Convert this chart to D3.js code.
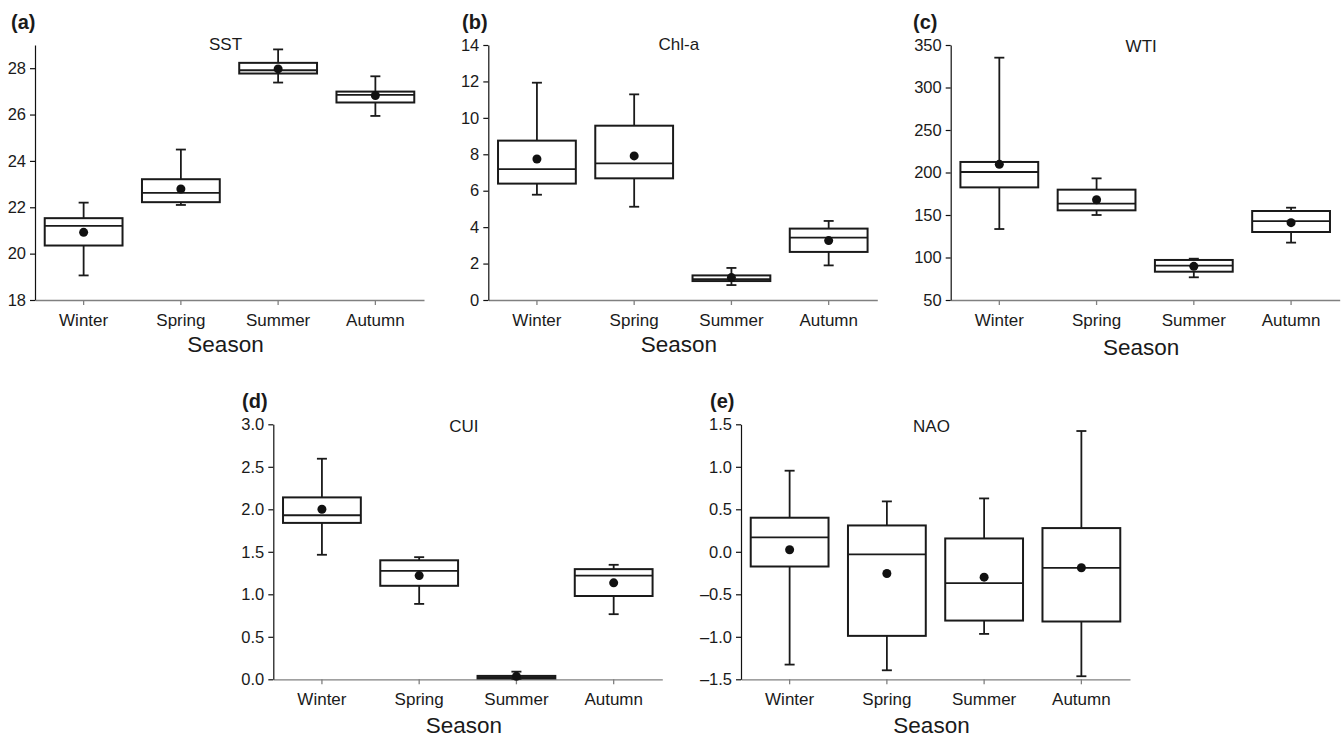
<!DOCTYPE html>
<html>
<head>
<meta charset="utf-8">
<script src="https://cdnjs.cloudflare.com/ajax/libs/d3/7.8.5/d3.min.js"></script>
<style>
  body { margin: 0; background: #fff; }
  text { font-family: "Liberation Sans", Arial, sans-serif; fill: #1a1a1a; }
</style>
</head>
<body>
<div id="chart"></div>
<script>
// seasons on the x axis
var seasons = ['Winter', 'Spring', 'Summer', 'Autumn'];

// box stats per season: [whisker low, Q1, median, Q3, whisker high, mean]
var sstStats = [
    [19.06, 20.35, 21.2, 21.53, 22.2, 20.92],
    [22.1, 22.22, 22.62, 23.21, 24.49, 22.79],
    [27.38, 27.77, 27.91, 28.23, 28.81, 27.97],
    [25.94, 26.52, 26.85, 26.99, 27.65, 26.82]
];
var chlStats = [
    [5.78, 6.39, 7.19, 8.75, 11.93, 7.74],
    [5.12, 6.68, 7.5, 9.57, 11.29, 7.91],
    [0.82, 1.04, 1.15, 1.35, 1.76, 1.23],
    [1.9, 2.64, 3.42, 3.92, 4.34, 3.26]
];
var wtiStats = [
    [133.5, 182.5, 200.6, 212.4, 335.1, 209.6],
    [150, 155.5, 163.3, 179.8, 193.1, 168],
    [76.7, 83.3, 90.4, 97.1, 98.6, 89.6],
    [117.5, 130, 142.9, 154.7, 158.6, 141]
];
var cuiStats = [
    [1.465, 1.84, 1.93, 2.14, 2.595, 2.0],
    [0.887, 1.1, 1.276, 1.4, 1.437, 1.22],
    [0.005, 0.01, 0.025, 0.04, 0.09, 0.035],
    [0.766, 0.98, 1.22, 1.296, 1.347, 1.135]
];
var naoStats = [
    [-1.327, -0.173, 0.169, 0.401, 0.954, 0.024],
    [-1.394, -0.989, -0.031, 0.31, 0.593, -0.255],
    [-0.966, -0.809, -0.369, 0.157, 0.628, -0.298],
    [-1.464, -0.82, -0.188, 0.279, 1.421, -0.188]
];

// y ticks
var sstTicks = [18, 20, 22, 24, 26, 28];
var chlTicks = [0, 2, 4, 6, 8, 10, 12, 14];
var wtiTicks = [50, 100, 150, 200, 250, 300, 350];
var cuiTicks = [0, 0.5, 1.0, 1.5, 2.0, 2.5, 3.0];
var naoTicks = [-1.5, -1.0, -0.5, 0.0, 0.5, 1.0, 1.5];

var W = 1344, H = 738;
var plotW = 389, plotH = 255;

// en dash for negatives, like the original figure
var dec1 = function(v) { return d3.format('.1f')(v).replace('\u2212', '\u2013'); };

var panels = [
    {tag: '(a)', title: 'SST', stats: sstStats, ticks: sstTicks, domain: [18, 29], fmt: d3.format('d'),
     left: 35, top: 45, tagX: 11, titleDy: 5, labDy: 52},
    {tag: '(b)', title: 'Chl-a', stats: chlStats, ticks: chlTicks, domain: [0, 14], fmt: d3.format('d'),
     left: 488.3, top: 45, tagX: 462, titleDy: 5, labDy: 52},
    {tag: '(c)', title: 'WTI', stats: wtiStats, ticks: wtiTicks, domain: [50, 350], fmt: d3.format('d'),
     left: 950.7, top: 45, tagX: 913, titleDy: 7, labDy: 55},
    {tag: '(d)', title: 'CUI', stats: cuiStats, ticks: cuiTicks, domain: [0, 3], fmt: dec1,
     left: 273.3, top: 424.3, tagX: 242, titleDy: 8, labDy: 54},
    {tag: '(e)', title: 'NAO', stats: naoStats, ticks: naoTicks, domain: [-1.5, 1.5], fmt: dec1,
     left: 741, top: 424.3, tagX: 710, titleDy: 8, labDy: 54}
];

var svg = d3.select('#chart')
    .append('svg')
    .attr('width', W)
    .attr('height', H);

panels.forEach(function(p) {
    var g = svg.append('g')
        .attr('transform', 'translate(' + p.left + ',' + p.top + ')');

    var x = d3.scaleBand().domain(seasons).range([0, plotW]).padding(0);
    var y = d3.scaleLinear().domain(p.domain).range([plotH, 0]);

    // x axis (grey)
    var xAxis = g.append('g')
        .attr('transform', 'translate(0,' + plotH + ')')
        .call(d3.axisBottom(x).tickSize(5).tickPadding(5).tickSizeOuter(0));
    xAxis.select('.domain').attr('stroke', '#808080').attr('stroke-width', 1.3);
    xAxis.selectAll('.tick line').attr('stroke', '#808080').attr('stroke-width', 1.3);
    xAxis.selectAll('.tick text')
        .attr('font-size', 17)
        .attr('dy', '0.95em')
        .attr('fill', '#1a1a1a');

    // y axis (black)
    var yAxis = g.append('g')
        .call(d3.axisLeft(y).tickValues(p.ticks).tickFormat(p.fmt).tickSize(5).tickPadding(4).tickSizeOuter(0));
    yAxis.select('.domain').attr('stroke', '#111').attr('stroke-width', 1.2);
    yAxis.selectAll('.tick line').attr('stroke', '#111').attr('stroke-width', 1.2);
    yAxis.selectAll('.tick text')
        .attr('font-size', 16.5)
        .attr('fill', '#1a1a1a');

    var bw = x.bandwidth() * 0.8;
    var capW = 10;

    var box = g.selectAll('.box')
        .data(p.stats)
        .enter()
        .append('g')
        .attr('class', 'box')
        .attr('transform', function(d, i) { return 'translate(' + (x(seasons[i]) + x.bandwidth() / 2) + ',0)'; });

    // whiskers
    box.append('line')
        .attr('x1', 0).attr('x2', 0)
        .attr('y1', function(d) { return y(d[0]); })
        .attr('y2', function(d) { return y(d[4]); })
        .attr('stroke', '#1a1a1a').attr('stroke-width', 1.8);
    box.append('line')
        .attr('x1', -capW / 2).attr('x2', capW / 2)
        .attr('y1', function(d) { return y(d[0]); })
        .attr('y2', function(d) { return y(d[0]); })
        .attr('stroke', '#1a1a1a').attr('stroke-width', 1.8);
    box.append('line')
        .attr('x1', -capW / 2).attr('x2', capW / 2)
        .attr('y1', function(d) { return y(d[4]); })
        .attr('y2', function(d) { return y(d[4]); })
        .attr('stroke', '#1a1a1a').attr('stroke-width', 1.8);

    // box
    box.append('rect')
        .attr('x', -bw / 2)
        .attr('width', bw)
        .attr('y', function(d) { return y(d[3]); })
        .attr('height', function(d) { return Math.max(0.5, y(d[1]) - y(d[3])); })
        .attr('fill', '#fff')
        .attr('stroke', '#1a1a1a').attr('stroke-width', 2);

    // median
    box.append('line')
        .attr('x1', -bw / 2).attr('x2', bw / 2)
        .attr('y1', function(d) { return y(d[2]); })
        .attr('y2', function(d) { return y(d[2]); })
        .attr('stroke', '#1a1a1a').attr('stroke-width', 1.8);

    // mean
    box.append('circle')
        .attr('cx', 0)
        .attr('cy', function(d) { return y(d[5]); })
        .attr('r', 4.5)
        .attr('fill', '#111');

    // title
    g.append('text')
        .attr('x', plotW / 2 - 4)
        .attr('y', p.titleDy)
        .attr('text-anchor', 'middle')
        .attr('font-size', 17)
        .text(p.title);

    // x label
    g.append('text')
        .attr('x', plotW / 2 - 4)
        .attr('y', plotH + p.labDy)
        .attr('text-anchor', 'middle')
        .attr('font-size', 22.5)
        .text('Season');

    // panel tag
    svg.append('text')
        .attr('x', p.tagX)
        .attr('y', p.top - 16)
        .attr('font-size', 20)
        .attr('font-weight', 'bold')
        .text(p.tag);
});
</script>
</body>
</html>
